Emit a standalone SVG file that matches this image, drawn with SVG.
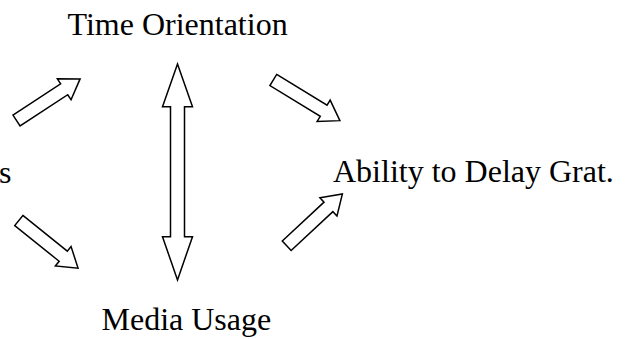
<svg xmlns="http://www.w3.org/2000/svg" width="625" height="339" viewBox="0 0 625 339">
<style>
.lbl{font-family:"Liberation Serif","Times New Roman",serif;font-size:32px;fill:#000}
.arr{fill:#fff;stroke:#000;stroke-width:1.5;stroke-linejoin:miter}
</style>
<defs>
<path id="da" d="M0,-6.5 L57,-6.5 L57,-12.5 L76,0 L57,12.5 L57,6.5 L0,6.5 Z"/>
</defs>
<rect width="625" height="339" fill="#fff"/>
<g id="connectors">
<use href="#da" class="arr" transform="translate(16.5,120.5) rotate(-33.2)"/>
<use href="#da" class="arr" transform="translate(18.8,220.5) rotate(38.8)"/>
<path class="arr" transform="translate(273.3,80) rotate(31.4)" d="M0,-6.5 L59,-6.5 L59,-12.5 L78,0 L59,12.5 L59,6.5 L0,6.5 Z"/>
<use href="#da" class="arr" transform="translate(286.7,245.7) rotate(-42.9)"/>
<path class="arr" d="M177.5,64 L192.5,106.7 L184.5,106.7 L184.5,236.7 L192.5,236.7 L177.5,280 L162.5,236.7 L170.5,236.7 L170.5,106.7 L162.5,106.7 Z"/>
</g>
<g id="node-time"><text class="lbl" x="67.5" y="35">Time Orientation</text></g>
<g id="node-left"><text class="lbl" x="-1" y="183">s</text></g>
<g id="node-ability"><text class="lbl" x="333" y="182">Ability to Delay Grat.</text></g>
<g id="node-media"><text class="lbl" x="101.5" y="330">Media Usage</text></g>
</svg>
